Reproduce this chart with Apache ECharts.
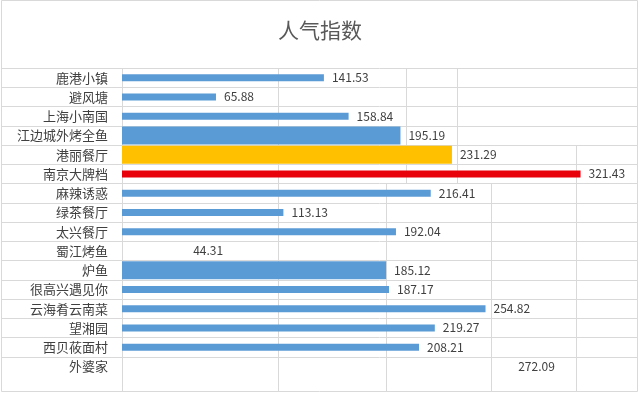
<!DOCTYPE html>
<html>
<head>
<meta charset="utf-8">
<script src="https://cdn.jsdelivr.net/npm/echarts@6/dist/echarts.min.js"></script>
<style>html,body{margin:0;padding:0;background:#fff;}#c{width:640px;height:395px;}</style>
</head>
<body>
<div id="c"></div>
<script>
const titleText = '人气指数';
const categories = ['鹿港小镇','避风塘','上海小南国','江边城外烤全鱼','港丽餐厅','南京大牌档','麻辣诱惑','绿茶餐厅','太兴餐厅','蜀江烤鱼','炉鱼','很高兴遇见你','云海肴云南菜','望湘园','西贝莜面村','外婆家'];
const values = [141.53,65.88,158.84,195.19,231.29,321.43,216.41,113.13,192.04,44.31,185.12,187.17,254.82,219.27,208.21,272.09];
const thickCategories = ['江边城外烤全鱼','港丽餐厅','炉鱼'];
const hiddenBarCategories = ['蜀江烤鱼','外婆家'];

const FONT = '"Noto Sans CJK SC", "Noto Sans", sans-serif';
const LINE = '#d9d9d9';
const colorFor = (cat) => {
  if (hiddenBarCategories.includes(cat)) return 'rgba(0,0,0,0)';
  if (cat === '港丽餐厅') return '#ffc000';
  if (cat === '南京大牌档') return '#e8000b';
  return '#5b9bd5';
};
const mkData = (thick) => categories.map((c, i) => {
  const isThick = thickCategories.includes(c);
  if (isThick !== thick) return '-';
  return { value: values[i], itemStyle: { color: colorFor(c) } };
});
const labelCfg = {
  show: true, position: 'right', distance: 8,
  color: '#404040', fontSize: 12, fontFamily: FONT,
  formatter: (p) => Number(p.value).toFixed(2)
};
const splitCfg = { show: true, showMinLine: true, showMaxLine: false, lineStyle: { color: LINE, width: 1 } };

const vLine = (x, y1, y2) => ({ type: 'line', silent: true, z: 0,
  shape: { x1: x + 0.5, y1: y1, x2: x + 0.5, y2: y2 }, style: { stroke: LINE, lineWidth: 1 } });

const chart = echarts.init(document.getElementById('c'), null, { renderer: 'canvas' });
chart.setOption({
  backgroundColor: '#ffffff',
  animation: false,
  title: { text: titleText, left: 'center', top: 15,
    textStyle: { fontSize: 21, fontWeight: 'normal', color: '#595959', fontFamily: FONT } },
  grid: [
    { left: 122, right: 3, top: 68, height: 308 },
    { left: 2, width: 120, top: 68, height: 308 }
  ],
  xAxis: [
    { gridIndex: 0, type: 'value', min: 0, max: 361, show: false },
    { gridIndex: 1, type: 'value', min: 0, max: 1, show: false }
  ],
  yAxis: [
    { gridIndex: 0, type: 'category', inverse: true, data: categories,
      axisLine: { show: false }, axisTick: { show: false },
      axisLabel: { margin: 14, color: '#404040', fontSize: 13, fontFamily: FONT, interval: 0 },
      splitLine: splitCfg },
    { gridIndex: 0, type: 'category', inverse: true, data: categories, show: false },
    { gridIndex: 1, type: 'category', inverse: true, data: categories,
      axisLine: { show: false }, axisTick: { show: false }, axisLabel: { show: false },
      splitLine: splitCfg }
  ],
  series: [
    { type: 'bar', xAxisIndex: 0, yAxisIndex: 0, barWidth: 7, data: mkData(false), label: labelCfg, z: 3 },
    { type: 'bar', xAxisIndex: 0, yAxisIndex: 1, barWidth: 18, data: mkData(true), label: labelCfg, z: 3 }
  ],
  graphic: [
    { type: 'rect', silent: true, z: 0, shape: { x: 1.5, y: 0.5, width: 636, height: 391 },
      style: { fill: 'none', stroke: LINE, lineWidth: 1 } },
    vLine(122, 68, 391),
    vLine(278, 68, 391),
    vLine(406, 68, 184),
    vLine(457, 68, 184),
    vLine(576, 145, 391),
    vLine(386, 184, 391),
    vLine(491, 184, 391)
  ]
});
</script>
</body>
</html>
